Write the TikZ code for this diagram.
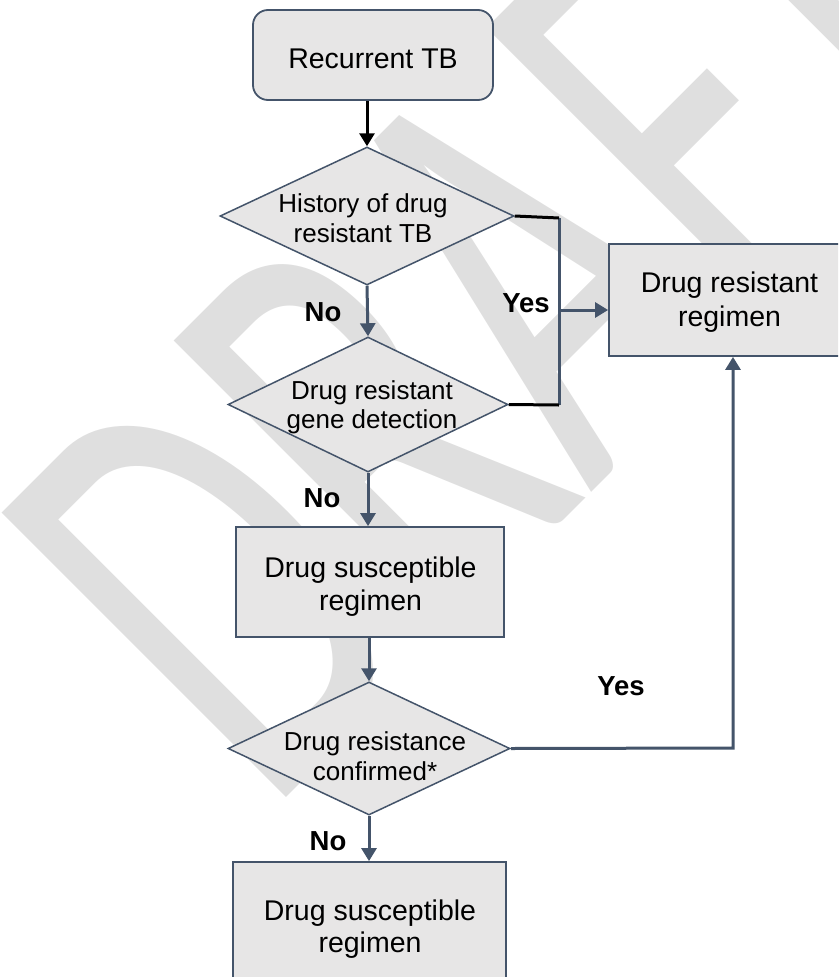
\documentclass[tikz,border=0pt]{standalone}
\usepackage{fontspec}
\setmainfont{Liberation Sans}
\newfontfamily\wmfont{Carlito}
\usetikzlibrary{shapes.geometric,arrows.meta}
\definecolor{frame}{HTML}{44546A}
\definecolor{boxfill}{HTML}{E7E6E6}
\definecolor{wmgray}{HTML}{DFDFDF}
\newcommand{\boxfont}{\fontsize{28.5}{33}\selectfont}
\newcommand{\decfont}{\fontsize{26}{30}\selectfont}
\newcommand{\lblfont}{\fontsize{27.5}{33}\selectfont\bfseries}

\begin{document}
\begin{tikzpicture}[x=1pt,y=-1pt,
  stepbox/.style={rectangle, draw=frame, fill=boxfill, line width=1.8pt, inner sep=0pt},
  startbox/.style={stepbox, rounded corners=15pt},
  decision/.style={diamond, draw=frame, fill=boxfill, line width=1.5pt, inner sep=0pt},
  boxtext/.style={align=center, font=\boxfont, inner sep=0pt},
  dectext/.style={align=center, font=\decfont, inner sep=0pt},
  lbl/.style={font=\lblfont, inner sep=0pt},
  flow/.style={draw=frame, line width=3pt, line join=miter, -{Triangle[length=13pt,width=15pt]}},
  blackflow/.style={draw=black, line width=3pt, -{Triangle[length=13pt,width=15pt]}},
  tick/.style={draw=black, line width=3pt},
  rail/.style={draw=frame, line width=3pt}]

\useasboundingbox (0,0) rectangle (838,977);
\clip (0,0) rectangle (838,977);

% watermark
\node[rotate=45, anchor=base west, inner sep=0pt, text=wmgray] (wm) at (267,817)
  {\scalebox{0.63}[1]{\fontsize{627}{627}\selectfont\wmfont DRAFT}};

% shapes
\node[startbox, minimum width=240pt, minimum height=90pt] (rtb) at (373,55) {};
\node[decision, minimum width=294pt, minimum height=138pt] (d1) at (367,216) {};
\node[decision, minimum width=280pt, minimum height=135pt] (d2) at (368,404.5) {};
\node[stepbox, minimum width=268pt, minimum height=110pt] (ds1) at (370,582) {};
\node[decision, minimum width=282pt, minimum height=133pt] (d3) at (369,748.5) {};
\node[stepbox, minimum width=273pt, minimum height=128pt] (ds2) at (369.5,926) {};
\node[stepbox, minimum width=241pt, minimum height=112pt] (dr) at (729.5,300) {};

% texts
\node[boxtext] (trtb) at (373,59.3) {Recurrent TB};
\node[dectext] (td1) at (363,218.5) {History of drug\\resistant TB};
\node[dectext, font=\fontsize{26}{28.5}\selectfont] (td2) at (372,407.5) {Drug resistant\\gene detection};
\node[boxtext] (tds1) at (370.5,586.3) {Drug susceptible\\regimen};
\node[dectext] (td3) at (375,755.7) {Drug resistance\\confirmed*};
\node[boxtext, font=\fontsize{28.5}{32}\selectfont] (tds2) at (370,929) {Drug susceptible\\regimen};
\node[boxtext, font=\fontsize{28.5}{34}\selectfont] (tdr) at (729.5,302.5) {Drug resistant\\regimen};

% branch labels
\node[lbl] (no1) at (323,312) {No};
\node[lbl] (no2) at (322,498) {No};
\node[lbl] (no3) at (328,841) {No};
\node[lbl] (yes1) at (526,303) {Yes};
\node[lbl] (yes2) at (621,686) {Yes};

% junction points
\coordinate (j1) at (559,218);
\coordinate (j2) at (559,405);
\coordinate (jm) at (559,310);
\coordinate (c4) at (733,748);

% connectors
\draw[blackflow] (d1.north |- rtb.south) -- (d1.north);
\draw[flow] (d1.south) -- (d2.north);
\draw[flow] (d2.south) -- (d2.south |- ds1.north);
\draw[flow] (ds1.south -| d3.north) -- (d3.north);
\draw[flow] (d3.south) -- (d3.south |- ds2.north);
\draw[rail] (j1) -- (j2);
\draw[tick] (d1.east) -- (j1);
\draw[tick] (d2.east) -- (j2);
\draw[flow] (jm) -- (jm -| dr.west);
\draw[flow] (d3.east) -- (c4) -- (c4 |- dr.south);
\end{tikzpicture}
\end{document}
